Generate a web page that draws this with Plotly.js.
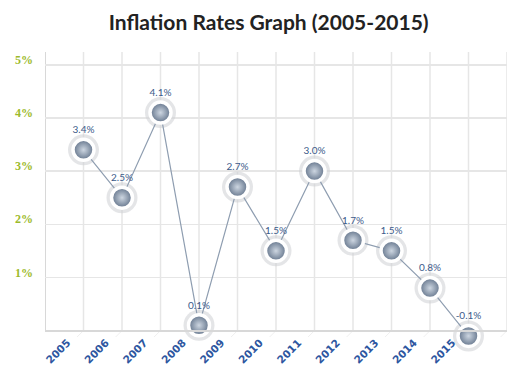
<!DOCTYPE html>
<html>
<head>
<meta charset="utf-8">
<script src="https://cdn.plot.ly/plotly-3.0.1.min.js"></script>
<style>html,body{margin:0;padding:0;background:#fff;}#chart{width:530px;height:374px;}</style>
</head>
<body>
<div id="chart"></div>
<script>
const years = ['2005','2006','2007','2008','2009','2010','2011','2012','2013','2014','2015'];
const rates = [3.4, 2.5, 4.1, 0.1, 2.7, 1.5, 3.0, 1.7, 1.5, 0.8, -0.1];
const rateLabels = ['3.4%','2.5%','4.1%','0.1%','2.7%','1.5%','3.0%','1.7%','1.5%','0.8%','-0.1%'];
const yTickVals = [1, 2, 3, 4, 5];
const yTickText = ['1%','2%','3%','4%','5%'];

const xPos = years.map((_, i) => i + 1);
const yMin = -0.12, yMax = 5.24, xMax = xPos.length + 1;

const shapes = [];
for (let i = 0; i <= xMax; i++) {
  shapes.push({type: 'line', layer: 'below', xref: 'x', yref: 'y', x0: i, x1: i, y0: 0, y1: yMax,
    line: {color: (i === 0 ? '#d8d8d8' : '#e6e6e6'), width: (i === 0 ? 2 : 1.5)}});
  shapes.push({type: 'line', layer: 'below', xref: 'x', yref: 'y', xsizemode: 'pixel', ysizemode: 'pixel',
    xanchor: i, yanchor: 0, x0: 0, x1: -14, y0: 0, y1: -14,
    line: {color: '#efefef', width: 1}});
}

const halo = {
  x: xPos, y: rates, type: 'scatter', mode: 'markers', cliponaxis: false,
  marker: {size: 31, color: 'rgba(205,208,212,0.55)', line: {width: 0}},
  hoverinfo: 'skip', showlegend: false
};
const main = {
  x: xPos, y: rates, type: 'scatter', mode: 'lines+markers+text', cliponaxis: false,
  text: rateLabels, textposition: 'top center',
  textfont: {family: 'Lato, sans-serif', size: 10, color: '#3b5a8a'},
  line: {color: '#8e9db0', width: 1.2},
  marker: {size: 21, color: '#617289', gradient: {type: 'radial', color: '#cdd6e1'},
           line: {width: 3.5, color: '#ffffff'}},
  showlegend: false
};

const zeroPos = (0 - yMin) / (yMax - yMin);

const layout = {
  width: 530, height: 374,
  margin: {l: 45, r: 23, t: 52, b: 37},
  paper_bgcolor: '#ffffff', plot_bgcolor: '#ffffff',
  title: {text: 'Inflation Rates Graph (2005-2015)', x: 0.507, xanchor: 'center', y: 0.94, yanchor: 'middle',
          font: {family: 'Lato, sans-serif', size: 21, color: '#222222', weight: 'bold'}},
  xaxis: {
    range: [0, xMax], tickmode: 'array', tickvals: xPos, ticktext: years,
    anchor: 'free', position: zeroPos,
    tickangle: -45, ticklabelshift: -16, ticklabelstandoff: 1,
    tickfont: {family: 'DejaVu Sans, sans-serif', size: 10.5, color: '#2d56a0', weight: 'bold'},
    showgrid: false, zeroline: false, showline: true, linecolor: '#d8d8d8', linewidth: 2,
    ticks: '', fixedrange: true
  },
  yaxis: {
    range: [yMin, yMax], tickmode: 'array', tickvals: yTickVals, ticktext: yTickText,
    tickfont: {family: 'Liberation Serif, serif', size: 12, color: '#9cba2c', weight: 'bold'},
    ticklabelstandoff: 11, ticklabelshift: -5,
    showgrid: true, gridcolor: '#e6e6e6', gridwidth: 1.5, zeroline: false,
    showline: false, ticks: '', fixedrange: true
  },
  shapes: shapes,
  font: {family: 'Lato, sans-serif'}
};

Plotly.newPlot('chart', [halo, main], layout, {displayModeBar: false, staticPlot: true});
</script>
</body>
</html>
